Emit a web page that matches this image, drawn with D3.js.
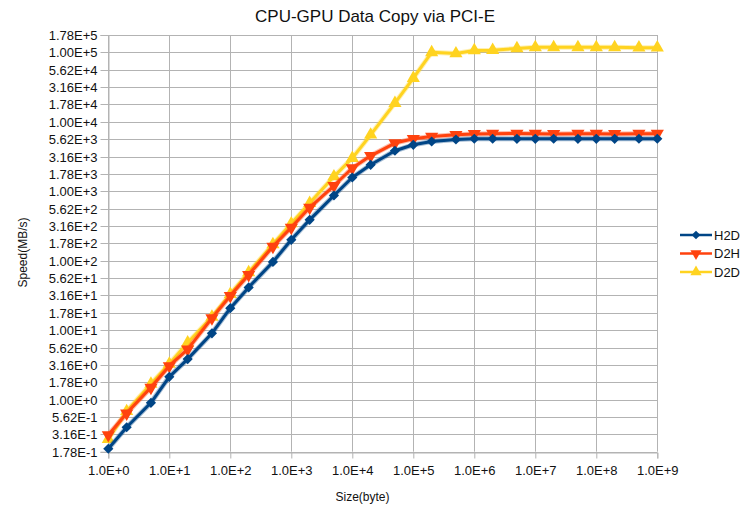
<!DOCTYPE html>
<html>
<head>
<meta charset="utf-8">
<script src="https://cdn.jsdelivr.net/npm/d3@7"></script>
<style>
  html, body { margin: 0; padding: 0; background: #fff; }
  svg { display: block; font-family: "Liberation Sans", Arial, sans-serif; }
</style>
</head>
<body>
<svg id="chart" width="751" height="513"></svg>
<script>
// ---- data ----
const sizes = [1, 2, 5, 10, 20, 50, 100, 200, 500, 1e3, 2e3, 5e3, 1e4, 2e4, 5e4, 1e5, 2e5, 5e5,
               1e6, 2e6, 5e6, 1e7, 2e7, 5e7, 1e8, 2e8, 5e8, 1e9];
const h2d = [0.196, 0.40, 0.90, 2.13, 3.83, 9.0, 20.7, 41.3, 96, 200, 388, 869, 1578, 2404, 3828, 4670, 5210, 5560,
             5700, 5700, 5680, 5680, 5700, 5680, 5680, 5680, 5700, 5700];
const d2h = [0.31, 0.635, 1.49, 3.05, 5.3, 14.9, 31.2, 62.7, 160, 300, 583, 1200, 2160, 3240, 4940, 5700, 6150, 6500,
             6700, 6750, 6800, 6750, 6700, 6750, 6750, 6700, 6750, 6750];
const d2d = [0.27, 0.68, 1.68, 3.27, 6.6, 15.5, 33, 68, 172, 343, 675, 1630, 3000, 6500, 18600, 42500, 100000, 96200,
             106700, 107500, 114000, 118000, 118000, 118000, 118000, 118000, 117000, 117000];
const seriesNames = ["H2D", "D2H", "D2D"];
const yTickLabels = ["1.78E-1","3.16E-1","5.62E-1","1.00E+0","1.78E+0","3.16E+0","5.62E+0","1.00E+1","1.78E+1",
  "3.16E+1","5.62E+1","1.00E+2","1.78E+2","3.16E+2","5.62E+2","1.00E+3","1.78E+3","3.16E+3","5.62E+3",
  "1.00E+4","1.78E+4","3.16E+4","5.62E+4","1.00E+5","1.78E+5"];
const xTickLabels = ["1.0E+0","1.0E+1","1.0E+2","1.0E+3","1.0E+4","1.0E+5","1.0E+6","1.0E+7","1.0E+8","1.0E+9"];
const titleText = "CPU-GPU Data Copy via PCI-E";
const xTitle = "Size(byte)";
const yTitle = "Speed(MB/s)";

// ---- layout ----
const svg = d3.select("#chart");
const L = 108.3, R = 657.3, T = 35, B = 451.7;
const x = d3.scaleLog().domain([1, 1e9]).range([L, R]);
const y = d3.scaleLog().domain([Math.pow(10, -0.75), Math.pow(10, 5.25)]).range([B, T]);
const yTickVals = yTickLabels.map((s, i) => Math.pow(10, -0.75 + i * 0.25));
const xTickVals = xTickLabels.map(Number);
const gridColor = "#b3b3b3";
const colors = { H2D: "#004586", D2H: "#ff420e", D2D: "#ffd320" };

svg.append("rect").attr("width", 751).attr("height", 513).attr("fill", "#fff");

// grid
const grid = svg.append("g");
grid.selectAll("line.h").data(yTickVals).join("line")
  .attr("x1", L).attr("x2", R)
  .attr("y1", d => Math.round(y(d)) + 0.5).attr("y2", d => Math.round(y(d)) + 0.5)
  .attr("stroke", gridColor).attr("stroke-width", 1);
grid.selectAll("line.v").data(xTickVals).join("line")
  .attr("y1", T).attr("y2", B)
  .attr("x1", d => Math.round(x(d)) + 0.5).attr("x2", d => Math.round(x(d)) + 0.5)
  .attr("stroke", gridColor).attr("stroke-width", 1);

// axes
const yAxis = d3.axisLeft(y).tickValues(yTickVals).tickFormat((d, i) => yTickLabels[i]).tickSize(8).tickPadding(3);
const gy = svg.append("g").attr("transform", `translate(${Math.round(L) + 0.5},0)`).call(yAxis);
const xAxis = d3.axisBottom(x).tickValues(xTickVals).tickFormat((d, i) => xTickLabels[i]).tickSize(6).tickPadding(7);
const gx = svg.append("g").attr("transform", `translate(0,${Math.round(B) + 0.5})`).call(xAxis);
[gx, gy].forEach(g => {
  g.select(".domain").attr("stroke", gridColor);
  g.selectAll(".tick line").attr("stroke", gridColor);
  g.selectAll(".tick text").attr("fill", "#111").style("font-size", "13px")
    .style("font-family", "'Liberation Sans', Arial, sans-serif");
});
gy.selectAll(".tick").attr("transform", d => `translate(0,${Math.round(y(d)) + 0.5})`);

// marker shapes (diamond = square rotated 45deg)
const sym = {
  H2D: d3.symbol().type(d3.symbolSquare).size(52),
  D2H: d3.symbol().type(d3.symbolTriangle).size(75),
  D2D: d3.symbol().type(d3.symbolTriangle).size(75)
};
const rot = { H2D: 45, D2H: 180, D2D: 0 };

const allSeries = { H2D: h2d, D2H: d2h, D2D: d2d };
const line = d3.line().x(d => x(d[0])).y(d => y(d[1]));
const drawOrder = ["D2D", "D2H", "H2D"];
drawOrder.forEach(name => {
  const pts = sizes.map((s, i) => [s, allSeries[name][i]]);
  const g = svg.append("g");
  g.append("path").datum(pts).attr("d", line).attr("fill", "none")
    .attr("stroke", colors[name]).attr("stroke-width", 5).attr("stroke-opacity", 0.35)
    .attr("stroke-linejoin", "round");
  g.append("path").datum(pts).attr("d", line).attr("fill", "none")
    .attr("stroke", colors[name]).attr("stroke-width", 3).attr("stroke-linejoin", "round");
  g.selectAll("path.m").data(pts).join("path")
    .attr("d", sym[name]())
    .attr("transform", d => `translate(${x(d[0])},${y(d[1])}) rotate(${rot[name]})`)
    .attr("fill", colors[name]);
});

// titles
svg.append("text").attr("x", 375).attr("y", 21.5).attr("text-anchor", "middle")
  .style("font-size", "17px").attr("fill", "#111").text(titleText);
svg.append("text").attr("x", 362.5).attr("y", 501).attr("text-anchor", "middle")
  .style("font-size", "12px").attr("fill", "#111").text(xTitle);
svg.append("text").attr("transform", "translate(27,252.5) rotate(-90)").attr("text-anchor", "middle")
  .style("font-size", "12px").attr("fill", "#111").text(yTitle);

// legend
const legY = [235, 253.5, 272];
const legSym = {
  H2D: d3.symbol().type(d3.symbolSquare).size(38),
  D2H: d3.symbol().type(d3.symbolTriangle).size(55),
  D2D: d3.symbol().type(d3.symbolTriangle).size(55)
};
seriesNames.forEach((name, i) => {
  const g = svg.append("g").attr("transform", `translate(0,${legY[i]})`);
  g.append("line").attr("x1", 680).attr("x2", 712).attr("y1", 0).attr("y2", 0)
    .attr("stroke", colors[name]).attr("stroke-width", 2.5);
  g.append("path").attr("d", legSym[name]())
    .attr("transform", `translate(696,0) rotate(${rot[name]})`).attr("fill", colors[name]);
  g.append("text").attr("x", 714).attr("y", 4.5).style("font-size", "13px").attr("fill", "#111").text(name);
});
</script>
</body>
</html>
